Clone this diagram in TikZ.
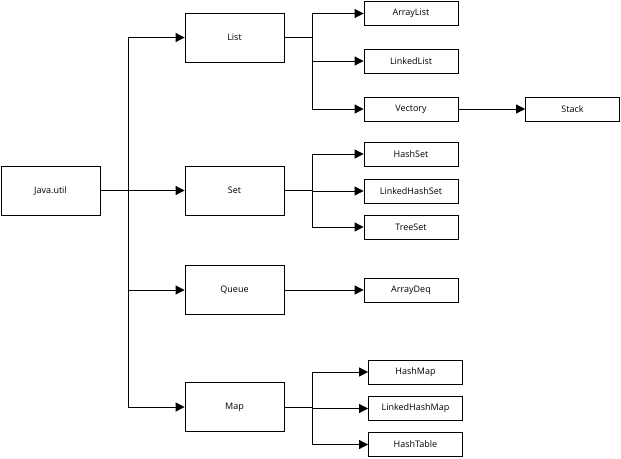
\documentclass[tikz,border=0pt]{standalone}
\usepackage{fontspec}
\setmainfont{Open Sans}
\usetikzlibrary{arrows.meta}
\begin{document}
\begin{tikzpicture}[x=1pt,y=-1pt,
  box/.style={draw, line width=0.8pt, inner sep=0pt, font=\fontsize{9}{11}\selectfont},
  bigbox/.style={box, minimum width=99pt, minimum height=49pt},
  smallbox/.style={box, minimum width=94pt, minimum height=24pt},
  conn/.style={line width=0.8pt},
  arr/.style={conn, -{Triangle[length=9pt,width=9pt]}}]
\useasboundingbox (0,0) rectangle (621,458);
% level 0
\node[bigbox] (jv) at (50.5,190.5) {Java.util};
% level 1
\node[bigbox] (list) at (234.5,37.5) {List};
\node[bigbox] (set) at (234.5,190.5) {Set};
\node[bigbox] (queue) at (234.5,290) {Queue};
\node[bigbox] (map) at (234.5,407) {Map};
% level 2
\node[smallbox] (al) at (411,13.5) {ArrayList};
\node[smallbox] (ll) at (411,61) {LinkedList};
\node[smallbox] (vec) at (411,109) {Vectory};
\node[smallbox] (stack) at (572.5,109) {Stack};
\node[smallbox] (hs) at (411,154) {HashSet};
\node[smallbox] (lhs) at (411,191) {LinkedHashSet};
\node[smallbox] (ts) at (411,227) {TreeSet};
\node[smallbox] (ad) at (411,290.5) {ArrayDeq};
\node[smallbox] (hm) at (415.5,372) {HashMap};
\node[smallbox] (lhm) at (415.5,408.5) {LinkedHashMap};
\node[smallbox] (ht) at (415.5,444.5) {HashTable};
% trunk from Java.util
\coordinate (t0) at (128,190.5);
\draw[conn] (jv.east) -- (t0);
\draw[conn] (t0 |- list.west) -- (t0 |- map.west);
\foreach \n in {list,set,queue,map} \draw[arr] (t0 |- \n.west) -- (\n.west);
% List branch
\coordinate (b1) at (312,37.5);
\draw[conn] (list.east) -- (b1);
\draw[conn] (b1 |- al.west) -- (b1 |- vec.west);
\foreach \n in {al,ll,vec} \draw[arr] (b1 |- \n.west) -- (\n.west);
\draw[arr] (vec.east) -- (stack.west);
% Set branch
\coordinate (b2) at (312,190.5);
\draw[conn] (set.east) -- (b2);
\draw[conn] (b2 |- hs.west) -- (b2 |- ts.west);
\foreach \n in {hs,lhs,ts} \draw[arr] (b2 |- \n.west) -- (\n.west);
% Queue branch
\draw[arr] (queue.east) -- (queue.east -| ad.west);
% Map branch
\coordinate (b3) at (312,407);
\draw[conn] (map.east) -- (b3);
\draw[conn] (b3 |- hm.west) -- (b3 |- ht.west);
\foreach \n in {hm,lhm,ht} \draw[arr] (b3 |- \n.west) -- (\n.west);
\end{tikzpicture}
\end{document}
